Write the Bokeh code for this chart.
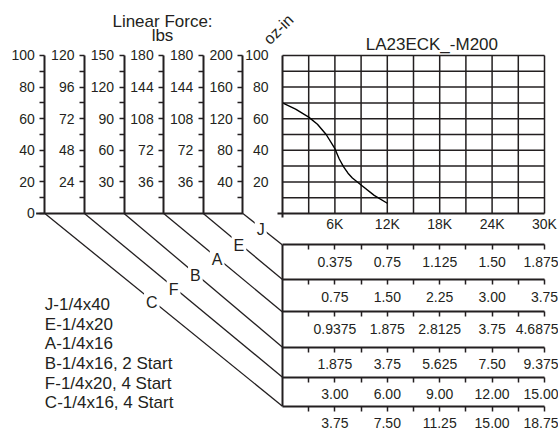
from bokeh.plotting import figure
from bokeh.models import LinearAxis, FixedTicker, Range1d
from bokeh.core.properties import value
from bokeh.embed import file_html
from bokeh.resources import INLINE

# ---------------- data ----------------
speed_rpm = [0, 1500, 3000, 4000, 5000, 6000, 6500, 7000, 7500, 8000, 9000, 10500, 12000]
torque_ozin = [70, 66, 61, 56.5, 50, 41, 34.5, 29.5, 25.5, 22.5, 18, 11.5, 6.5]

speed_ticks = [6000, 12000, 18000, 24000, 30000]
speed_minor = [3000, 9000, 15000, 21000, 27000]
speed_labels = ["6K", "12K", "18K", "24K", "30K"]

torque_ticks = [20, 40, 60, 80, 100]
torque_minor = [10, 30, 50, 70, 90]
torque_labels = ["20", "40", "60", "80", "100"]

screws = ["J", "E", "A", "B", "F", "C"]
screw_desc = ["J-1/4x40", "E-1/4x20", "A-1/4x16", "B-1/4x16, 2 Start",
              "F-1/4x20, 4 Start", "C-1/4x16, 4 Start"]
force_labels = {
    "J": ["40", "80", "120", "160", "200"],
    "E": ["36", "72", "108", "144", "180"],
    "A": ["36", "72", "108", "144", "180"],
    "B": ["30", "60", "90", "120", "150"],
    "F": ["24", "48", "72", "96", "120"],
    "C": ["20", "40", "60", "80", "100"],
}
speed_in_labels = {
    "J": ["0.375", "0.75", "1.125", "1.50", "1.875"],
    "E": ["0.75", "1.50", "2.25", "3.00", "3.75"],
    "A": ["0.9375", "1.875", "2.8125", "3.75", "4.6875"],
    "B": ["1.875", "3.75", "5.625", "7.50", "9.375"],
    "F": ["3.00", "6.00", "9.00", "12.00", "15.00"],
    "C": ["3.75", "7.50", "11.25", "15.00", "18.75"],
}

# ---------------- layout ----------------
INK = "#231f20"
NUM_FONT = "Liberation Sans"
TXT_FONT = "Liberation Sans"
AXIS_GAP = 4535            # spacing of the force axes, in speed units
ROW_Y = [-19.9, -41.8, -62.3, -84.6, -103.6, -122.0]   # table rows, in torque units
X_MAX, Y_MAX = 30000, 100

p = figure(width=558, height=432, output_backend="svg", toolbar_location=None,
           x_range=Range1d(-32290, 31603), y_range=Range1d(-138.6, 134.8),
           x_axis_type=None, y_axis_type=None, min_border=0)
p.outline_line_color = None
p.background_fill_color = "white"
p.border_fill_color = "white"
p.grid.visible = False

# grid of the torque chart
gx = [3000 * i for i in range(1, 11)]
gy = [10 * j for j in range(1, 11)]
p.segment(x0=gx, y0=[0] * len(gx), x1=gx, y1=[Y_MAX] * len(gx), line_color=INK, line_width=1.5)
p.segment(x0=[0] * len(gy), y0=gy, x1=[X_MAX] * len(gy), y1=gy, line_color=INK, line_width=1.5)

# torque curve
p.line(speed_rpm, torque_ozin, line_color="black", line_width=1.4)


def style(ax, size):
    ax.axis_line_color = INK
    ax.axis_line_width = 2
    ax.major_tick_line_color = INK
    ax.minor_tick_line_color = INK
    ax.major_tick_line_width = 1.5
    ax.minor_tick_line_width = 1.5
    ax.major_label_text_font = NUM_FONT
    ax.major_label_text_font_size = size
    ax.major_label_text_color = INK


# speed axis of the chart
xa = LinearAxis(fixed_location=0, bounds=(-600, X_MAX),
                ticker=FixedTicker(ticks=speed_ticks, minor_ticks=[]),
                major_label_overrides=dict(zip(speed_ticks, speed_labels)))
style(xa, "14px")
xa.major_tick_out = 0
xa.major_tick_in = 0
xa.major_label_standoff = 3
p.add_layout(xa, "below")

# torque axis
ya = LinearAxis(fixed_location=0, bounds=(-2.5, Y_MAX),
                ticker=FixedTicker(ticks=torque_ticks, minor_ticks=[]),
                major_label_overrides=dict(zip(torque_ticks, torque_labels)))
style(ya, "14px")
ya.major_tick_out = 0
ya.major_tick_in = 0
ya.major_label_standoff = 14
p.add_layout(ya, "left")

# force axes, one per screw
axis_x = {}
for k, s in enumerate(screws, start=1):
    ax_x = -k * AXIS_GAP
    axis_x[s] = ax_x
    ticks = list(torque_ticks)
    labels = list(force_labels[s])
    if s == "C":
        ticks = [0] + ticks
        labels = ["0"] + labels
    fa = LinearAxis(fixed_location=ax_x, bounds=(0, Y_MAX),
                    ticker=FixedTicker(ticks=ticks, minor_ticks=torque_minor),
                    major_label_overrides=dict(zip(ticks, labels)))
    style(fa, "14px")
    fa.major_tick_out = 5
    fa.major_tick_in = 0
    fa.minor_tick_out = 5
    fa.minor_tick_in = 0
    fa.major_label_standoff = 5
    p.add_layout(fa, "left")

# baseline joining the force axes
p.segment(x0=[axis_x["C"] - 1000], y0=[0], x1=[axis_x["J"]], y1=[0], line_color=INK, line_width=2)

# linear speed rows
for s, ry in zip(screws, ROW_Y):
    ra = LinearAxis(fixed_location=ry, bounds=(0, X_MAX),
                    ticker=FixedTicker(ticks=speed_ticks, minor_ticks=speed_minor),
                    major_label_overrides=dict(zip(speed_ticks, speed_in_labels[s])))
    style(ra, "14px")
    ra.major_tick_out = 5
    ra.major_tick_in = 0
    ra.minor_tick_out = 5
    ra.minor_tick_in = 0
    ra.major_label_standoff = 7
    p.add_layout(ra, "below")

p.segment(x0=[0], y0=[ROW_Y[0]], x1=[0], y1=[ROW_Y[-1]], line_color=INK, line_width=2)

# diagonals from force axes to rows
dx0 = [axis_x[s] for s in screws]
p.segment(x0=dx0, y0=[0] * 6, x1=[0] * 6, y1=ROW_Y, line_color=INK, line_width=1.3)
T = 0.45
p.text(x=[x * (1 - T) for x in dx0], y=[y * T - 1.2 for y in ROW_Y], text=screws,
       text_font=value(TXT_FONT), text_font_size="16px", text_color=INK,
       text_align="center", text_baseline="middle",
       background_fill_color="white", padding=2)

# legend
LEG_X = axis_x["C"]
p.text(x=[LEG_X] * 6, y=[-57.6 - 12.45 * i for i in range(6)], text=screw_desc,
       text_font=value(TXT_FONT), text_font_size="17px", text_color=INK,
       text_align="left", text_baseline="middle")

# titles
p.text(x=[-13740, -13740], y=[121.2, 112.5], text=["Linear Force:", "lbs"],
       text_font=value(TXT_FONT), text_font_size="17px", text_color=INK,
       text_align="center", text_baseline="middle")
p.text(x=[17100], y=[107.0], text=["LA23ECK_-M200"],
       text_font=value(TXT_FONT), text_font_size="17px", text_color=INK,
       text_align="center", text_baseline="middle")
p.text(x=[-460], y=[116.5], text=["oz-in"], angle=0.785398,
       text_font=value(TXT_FONT), text_font_size="16px", text_color=INK,
       text_align="center", text_baseline="middle")

open("out.html", "w").write(file_html(p, INLINE))
